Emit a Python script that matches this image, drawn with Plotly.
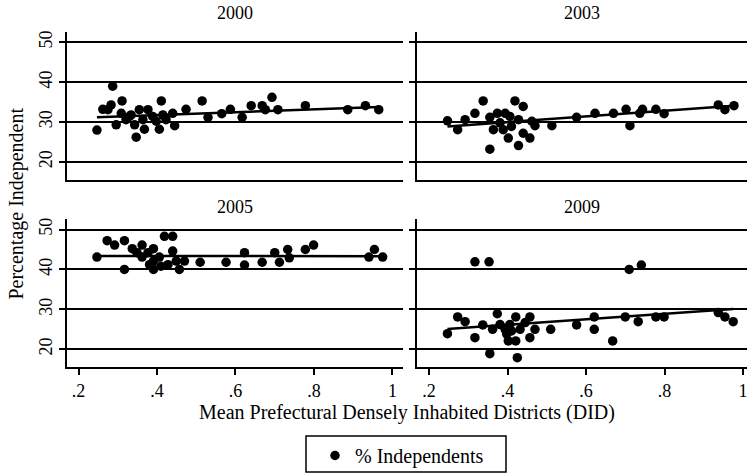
import plotly.graph_objects as go

FONT = "Liberation Serif"

# ---- data ----
years = ["2000", "2003", "2005", "2009"]

did_2000 = [0.247, 0.287, 0.262, 0.283, 0.311, 0.296, 0.330, 0.347, 0.368, 0.406, 0.411, 0.445,
            0.440, 0.474, 0.515, 0.530, 0.565, 0.587, 0.617, 0.640, 0.668, 0.693, 0.676, 0.708,
            0.778, 0.886, 0.931, 0.965, 0.321, 0.334, 0.355, 0.377, 0.389, 0.364, 0.343, 0.398,
            0.415, 0.423, 0.309, 0.275]
ind_2000 = [28.0, 39.0, 33.2, 34.3, 35.3, 29.3, 31.4, 26.2, 28.2, 28.2, 35.3, 29.1,
            32.2, 33.2, 35.3, 31.2, 32.1, 33.2, 31.2, 34.1, 34.1, 36.2, 33.1, 33.1,
            34.1, 33.1, 34.1, 33.1, 30.6, 31.8, 33.1, 33.1, 31.4, 30.6, 29.3, 30.2,
            31.8, 30.6, 32.2, 33.1]

did_2003 = [0.247, 0.273, 0.292, 0.317, 0.338, 0.355, 0.355, 0.374, 0.394, 0.364, 0.381, 0.389,
            0.402, 0.419, 0.440, 0.428, 0.428, 0.440, 0.457, 0.470, 0.462, 0.513, 0.576, 0.623,
            0.670, 0.702, 0.712, 0.737, 0.744, 0.778, 0.799, 0.937, 0.954, 0.977, 0.410, 0.406]
ind_2003 = [30.3, 28.1, 30.6, 32.2, 35.3, 23.2, 31.2, 32.2, 32.2, 28.1, 29.8, 28.1,
            26.0, 35.3, 33.9, 30.6, 24.1, 27.2, 26.0, 29.1, 30.2, 29.1, 31.2, 32.2,
            32.2, 33.2, 29.1, 32.2, 33.2, 33.2, 32.1, 34.3, 33.1, 34.1, 28.9, 31.4]

did_2005 = [0.247, 0.273, 0.292, 0.317, 0.317, 0.337, 0.362, 0.362, 0.349, 0.377, 0.391, 0.391,
            0.391, 0.406, 0.419, 0.440, 0.440, 0.428, 0.449, 0.457, 0.470, 0.410, 0.381, 0.510,
            0.576, 0.623, 0.623, 0.668, 0.700, 0.712, 0.733, 0.737, 0.778, 0.799, 0.940, 0.954,
            0.975]
ind_2005 = [43.1, 47.2, 46.1, 47.2, 40.0, 45.2, 46.1, 43.1, 44.2, 44.2, 45.2, 42.1,
            40.0, 43.1, 48.3, 48.3, 44.6, 41.2, 42.1, 40.0, 42.1, 40.8, 41.2, 41.8,
            41.8, 44.2, 41.1, 41.8, 44.2, 41.8, 45.0, 42.9, 45.0, 46.1, 43.1, 45.0,
            43.1]

did_2009 = [0.247, 0.273, 0.292, 0.317, 0.317, 0.353, 0.337, 0.355, 0.362, 0.374, 0.381, 0.394,
            0.398, 0.402, 0.406, 0.421, 0.421, 0.425, 0.432, 0.445, 0.457, 0.457, 0.470, 0.510,
            0.576, 0.621, 0.621, 0.668, 0.700, 0.710, 0.741, 0.733, 0.778, 0.799, 0.937, 0.954,
            0.975, 0.410]
ind_2009 = [23.9, 28.1, 26.9, 41.9, 22.9, 41.9, 26.1, 18.9, 25.0, 28.9, 26.2, 25.0,
            23.8, 22.1, 26.2, 28.1, 22.1, 17.9, 25.0, 26.7, 28.1, 22.9, 25.0, 25.0,
            26.1, 28.1, 25.0, 22.1, 28.1, 40.0, 41.1, 26.9, 28.1, 28.1, 29.2, 28.1,
            26.9, 24.6]

# fitted-line values at the smallest and largest DID
fit_2000 = [31.2, 33.8]
fit_2003 = [28.9, 34.1]
fit_2005 = [43.4, 43.3]
fit_2009 = [25.1, 30.1]

y_ticks = [20, 30, 40, 50]
x_ticks = [0.2, 0.4, 0.6, 0.8, 1.0]
x_ticklabels = [".2", ".4", ".6", ".8", "1"]

panels = [
    (did_2000, ind_2000, fit_2000),
    (did_2003, ind_2003, fit_2003),
    (did_2005, ind_2005, fit_2005),
    (did_2009, ind_2009, fit_2009),
]

W, H = 747, 475
fig = go.Figure()

# panel geometry in pixels
left_px = [(67, 403), (417, 747)]
top_px = [(32, 180), (219.3, 368)]
x_ranges = [[0.1707, 1.0268], [0.1694, 1.0102]]
y_ranges = [[15.58, 52.58], [15.5, 52.68]]

for i, (xs, ys, fit) in enumerate(panels):
    r, c = divmod(i, 2)
    n = "" if i == 0 else str(i + 1)
    fig.add_trace(go.Scatter(
        x=xs, y=ys, mode="markers",
        marker=dict(color="black", size=9.5),
        name="% Independents", showlegend=(i == 0),
        xaxis="x" + n, yaxis="y" + n))
    fig.add_trace(go.Scatter(
        x=[min(xs), max(xs)], y=fit, mode="lines",
        line=dict(color="black", width=2.5),
        showlegend=False, xaxis="x" + n, yaxis="y" + n))

    x0, x1 = left_px[c]
    t0, t1 = top_px[r]
    bottom = r == 1
    left = c == 0
    fig.layout["xaxis" + n] = dict(
        domain=[x0 / W, x1 / W], range=x_ranges[c], anchor="y" + n,
        showline=True, linecolor="black", linewidth=2, mirror=False,
        showgrid=False, zeroline=False,
        tickvals=x_ticks, ticktext=x_ticklabels,
        ticks="outside" if bottom else "", ticklen=6, tickwidth=1.5, tickcolor="black",
        showticklabels=bottom, ticklabeloverflow="allow",
        tickfont=dict(family=FONT, size=18, color="black"))
    fig.layout["yaxis" + n] = dict(
        domain=[(H - t1) / H, (H - t0) / H], range=y_ranges[r], anchor="x" + n,
        showline=True, linecolor="black", linewidth=2,
        showgrid=True, gridcolor="black", gridwidth=2, zeroline=False,
        tickvals=y_ticks, ticks="outside", ticklen=6, tickwidth=1.5, tickcolor="black",
        showticklabels=left, tickangle=-90,
        tickfont=dict(family=FONT, size=18, color="black"))

annotations = []
title_y = [13, 207]
for i, yr in enumerate(years):
    r, c = divmod(i, 2)
    x0, x1 = left_px[c]
    annotations.append(dict(
        text=yr, x=(x0 + x1) / 2 / W, y=(H - title_y[r]) / H,
        xref="paper", yref="paper", showarrow=False,
        xanchor="center", yanchor="middle",
        font=dict(family=FONT, size=18, color="black")))

annotations.append(dict(
    text="Mean Prefectural Densely Inhabited Districts (DID)",
    x=407 / W, y=(H - 413) / H, xref="paper", yref="paper", showarrow=False,
    xanchor="center", yanchor="middle",
    font=dict(family=FONT, size=20, color="black")))
annotations.append(dict(
    text="Percentage Independent", textangle=-90,
    x=17 / W, y=(H - 204) / H, xref="paper", yref="paper", showarrow=False,
    xanchor="center", yanchor="middle",
    font=dict(family=FONT, size=20, color="black")))

# legend frame
shapes = [dict(type="rect", xref="paper", yref="paper",
               x0=306 / W, x1=506 / W, y0=(H - 473) / H, y1=(H - 437) / H,
               line=dict(color="black", width=1.5), fillcolor="rgba(0,0,0,0)")]

fig.update_layout(
    width=W, height=H,
    margin=dict(l=0, r=0, t=0, b=0),
    paper_bgcolor="white", plot_bgcolor="white",
    annotations=annotations,
    shapes=shapes,
    showlegend=True,
    legend=dict(
        x=315 / W, y=(H - 456) / H, xanchor="left", yanchor="middle",
        borderwidth=0, bgcolor="rgba(0,0,0,0)",
        font=dict(family=FONT, size=20, color="black"),
        itemwidth=30),
)

fig.write_html("out.html")
